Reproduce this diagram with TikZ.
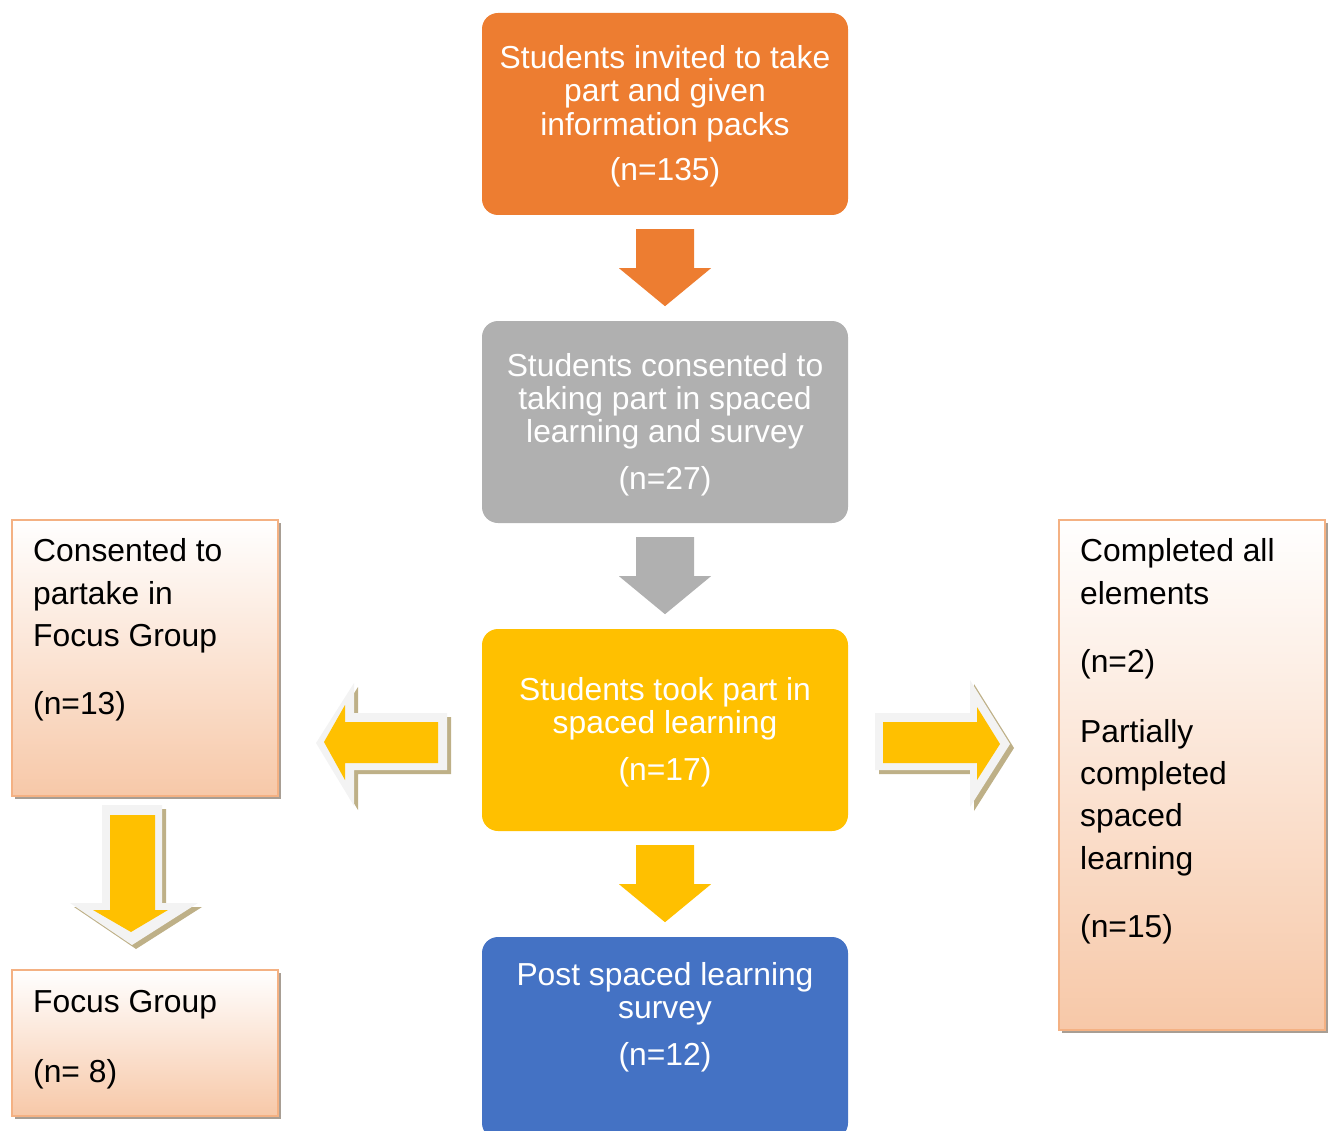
\documentclass[tikz,border=0pt]{standalone}
\usepackage{fontspec}
\setmainfont{Liberation Sans}
\usetikzlibrary{calc,shadows}
\definecolor{cOrange}{RGB}{237,125,49}
\definecolor{cGray}{RGB}{176,176,176}
\definecolor{cYellow}{RGB}{255,192,0}
\definecolor{cBlue}{RGB}{68,114,196}
\definecolor{cPeach}{RGB}{247,200,168}
\definecolor{cPeachLine}{RGB}{244,177,131}
\definecolor{cTan}{RGB}{190,176,135}
\definecolor{cOutline}{RGB}{243,243,243}
\definecolor{cShadow}{RGB}{168,158,148}
\begin{document}
\begin{tikzpicture}[x=1pt,y=-1pt,
  box/.style={rounded corners=16pt, minimum width=366pt, minimum height=202pt, inner sep=0pt, draw=none},
  sidebox/.style={draw=cPeachLine, line width=2pt, top color=white, bottom color=cPeach,
     minimum width=266pt, inner sep=0pt,
     drop shadow={shadow xshift=3pt, shadow yshift=-3pt, fill=cShadow, opacity=1}},
  ctxt/.style={text=white, font=\fontsize{31.8}{38}\selectfont, anchor=base, inner sep=0pt},
  stxt/.style={text=black, font=\fontsize{31.8}{38}\selectfont, anchor=base west, inner sep=0pt},
  outl/.style={fill=cOutline},
  shad/.style={fill=cTan},
  inner/.style={fill=cYellow}
]
\useasboundingbox (0,0) rectangle (1329,1131);
\clip (0,0) rectangle (1329,1131);

% central boxes
\node[box, fill=cOrange] (b1) at (665,114) {};
\node[box, fill=cGray]   (b2) at (665,422) {};
\node[box, fill=cYellow] (b3) at (665,730) {};
\node[box, fill=cBlue]   (b4) at (665,1038) {};

% side boxes
\node[sidebox, minimum height=276pt] (cons) at (145,658) {};
\node[sidebox, minimum height=146pt] (focus) at (145,1043) {};
\node[sidebox, minimum height=510pt] (compl) at (1191.5,774.5) {};

% down arrows between central boxes
\foreach \from/\col in {b1/cOrange, b2/cGray, b3/cYellow}
  \fill[\col] ($(\from.south)+(0,14)$) ++(-29,0) -- ++(58,0) -- ++(0,39) -- ++(17,0)
     -- ++(-46,38) -- ++(-46,-38) -- ++(17,0) -- cycle;

% left 3D arrow (b3 -> cons)
\fill[shad, shift={(4,4)}] (316,743) -- (354,683) -- (354,713) -- (447,713) -- (447,770) -- (354,770) -- (354,806) -- cycle;
\fill[outl] (316,743) -- (354,683) -- (354,713) -- (447,713) -- (447,770) -- (354,770) -- (354,806) -- cycle;
\fill[inner] (324,742) -- (345,705) -- (345,722) -- (438,722) -- (438,763) -- (345,763) -- (345,780) -- cycle;

% right 3D arrow (b3 -> compl)
\fill[shad, shift={(4,4)}] (875,713) -- (970,713) -- (970,680) -- (1010,744) -- (970,807) -- (970,770) -- (875,770) -- cycle;
\fill[outl] (875,713) -- (970,713) -- (970,680) -- (1010,744) -- (970,807) -- (970,770) -- (875,770) -- cycle;
\fill[inner] (883,722) -- (977,722) -- (977,707) -- (1000,744) -- (977,780) -- (977,763) -- (883,763) -- cycle;

% down 3D arrow (cons -> focus)
\fill[shad, shift={(4,4)}] (102,805) -- (162,805) -- (162,903) -- (198,903) -- (132,945) -- (70,903) -- (102,903) -- cycle;
\fill[outl] (102,805) -- (162,805) -- (162,903) -- (198,903) -- (132,945) -- (70,903) -- (102,903) -- cycle;
\fill[inner] (110,815) -- (155,815) -- (155,910) -- (168,910) -- (131,932) -- (93,910) -- (110,910) -- cycle;

% central texts
\node[ctxt] (t1a) at (665,68.5) {Students invited to take};
\node[ctxt] (t1b) at (665,102) {part and given};
\node[ctxt] (t1c) at (665,135.5) {information packs};
\node[ctxt] (t1d) at (665,181) {(n=135)};

\node[ctxt] (t2a) at (665,376.5) {Students consented to};
\node[ctxt] (t2b) at (665,409.5) {taking part in spaced};
\node[ctxt] (t2c) at (665,442.5) {learning and survey};
\node[ctxt] (t2d) at (665,489) {(n=27)};

\node[ctxt] (t3a) at (665,700.5) {Students took part in};
\node[ctxt] (t3b) at (665,733.5) {spaced learning};
\node[ctxt] (t3c) at (665,780) {(n=17)};

\node[ctxt] (t4a) at (665,985.5) {Post spaced learning};
\node[ctxt] (t4b) at (665,1018.5) {survey};
\node[ctxt] (t4c) at (665,1065) {(n=12)};

% side texts
\node[stxt] (s1a) at (33,561.5) {Consented to};
\node[stxt] (s1b) at (33,604) {partake in};
\node[stxt] (s1c) at (33,646.5) {Focus Group};
\node[stxt] (s1d) at (33,714) {(n=13)};

\node[stxt] (s2a) at (33,1012.5) {Focus Group};
\node[stxt] (s2b) at (33,1082) {(n= 8)};

\node[stxt] (s3a) at (1080,561.5) {Completed all};
\node[stxt] (s3b) at (1080,604) {elements};
\node[stxt] (s3c) at (1080,672) {(n=2)};
\node[stxt] (s3d) at (1080,742.5) {Partially};
\node[stxt] (s3e) at (1080,784.5) {completed};
\node[stxt] (s3f) at (1080,826.5) {spaced};
\node[stxt] (s3g) at (1080,869) {learning};
\node[stxt] (s3h) at (1080,937) {(n=15)};
\end{tikzpicture}
\end{document}
